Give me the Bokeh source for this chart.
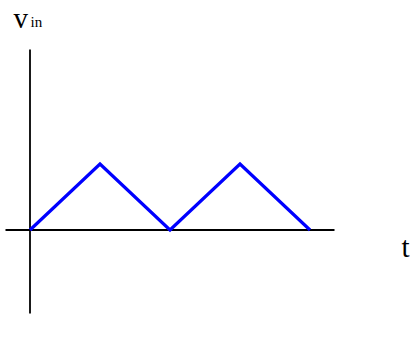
from bokeh.plotting import figure
from bokeh.models import Range1d, Label
from bokeh.embed import file_html
from bokeh.resources import INLINE

# data: triangle wave
t_vals = [0, 1, 2, 3, 4]
v_vals = [0, 1, 0, 1, 0]

# axis extents (data units)
t_axis = [-0.35, 4.35]
v_axis = [-1.265, 2.735]

W, H = 411, 347
x0 = -29.5 / 70
y1 = 229.5 / 66
p = figure(width=W, height=H, output_backend="svg", toolbar_location=None,
           x_axis_location=None, y_axis_location=None, min_border=0,
           x_range=Range1d(x0, x0 + W / 70), y_range=Range1d(y1 - H / 66, y1))
p.grid.visible = False
p.outline_line_color = None
p.background_fill_color = "white"
p.border_fill_color = "white"

# axes lines
p.line(t_axis, [0, 0], line_color="black", line_width=1.8)
p.line([0, 0], v_axis, line_color="black", line_width=1.8)

# waveform
p.line(t_vals, v_vals, line_color="#0000FF", line_width=3.2, line_join="miter")

font = "'Liberation Serif', 'Times New Roman', serif"
p.add_layout(Label(x=-0.236, y=3.205, text="v", text_font=font, text_font_size="29px",
                   text_color="black", text_baseline="alphabetic", text_align="left"))
p.add_layout(Label(x=0.007, y=3.144, text="in", text_font=font, text_font_size="15px",
                   text_color="black", text_baseline="alphabetic", text_align="left"))
p.add_layout(Label(x=5.307, y=-0.25, text="t", text_font=font, text_font_size="29px",
                   text_color="black", text_baseline="alphabetic", text_align="left"))

open("out.html", "w").write(file_html(p, INLINE))
